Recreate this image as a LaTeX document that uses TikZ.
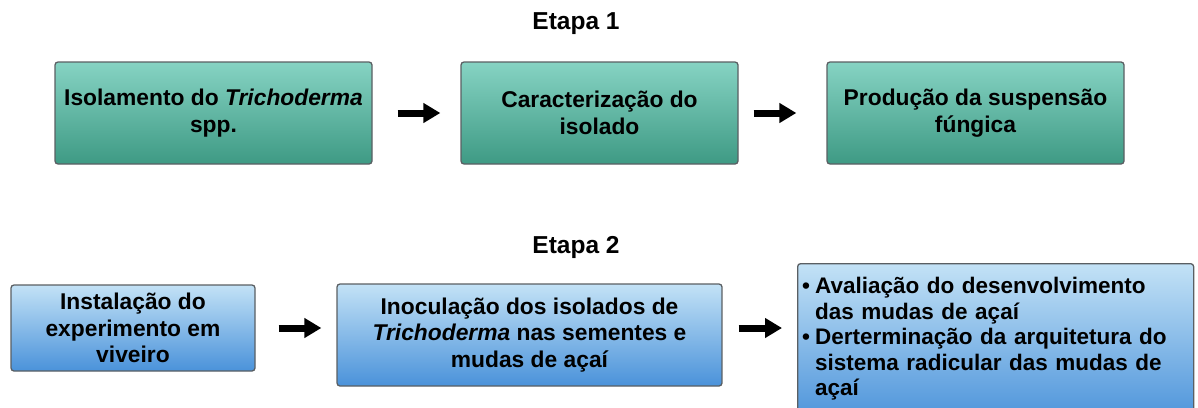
\documentclass[tikz,border=0pt]{standalone}
\usepackage{fontspec}
\setmainfont{Liberation Sans}
\usetikzlibrary{arrows.meta}
\definecolor{tealtop}{HTML}{86D3C3}
\definecolor{tealbot}{HTML}{3E9A84}
\definecolor{bluetop}{HTML}{C3E2F6}
\definecolor{bluebot}{HTML}{4A92DA}
\definecolor{edge}{HTML}{5A5F63}
\begin{document}
\begin{tikzpicture}[x=1pt,y=-1pt,
  box/.style={draw=edge, line width=1.3pt, rounded corners=3pt, align=center,
    font=\fontsize{22.8}{26.5}\selectfont\bfseries, inner sep=4pt},
  tealbox/.style={box, top color=tealtop, bottom color=tealbot},
  bluebox/.style={box, top color=bluetop, bottom color=bluebot},
  stage/.style={font=\fontsize{24.5}{28}\selectfont\bfseries},
  bigarrow/.style={line width=7pt, -{Triangle[length=17pt,width=19pt]}}
]
\useasboundingbox (0,0) rectangle (1198,407);
\clip (0,0) rectangle (1198,407);

\node[stage] (e1) at (576,24) {Etapa 1};
\node[stage] (e2) at (576,247) {Etapa 2};

\node[tealbox, minimum width=317pt, minimum height=102pt] (b1) at (213.5,113)
  {Isolamento do \textit{Trichoderma}\\spp.};
\node[tealbox, minimum width=277pt, minimum height=102pt] (b2) at (599.5,113)
  {Caracterização do\\isolado};
\node[tealbox, minimum width=297pt, minimum height=102pt] (b3) at (975.5,113)
  {Produção da suspensão\\fúngica};

\node[bluebox, minimum width=244pt, minimum height=86pt] (b4) at (133,328)
  {Instalação do\\experimento em\\viveiro};
\node[bluebox, minimum width=385pt, minimum height=102pt] (b5) at (529.5,335)
  {Inoculação dos isolados de\\\textit{Trichoderma} nas sementes e\\mudas de açaí};
\node[bluebox, minimum width=396pt, minimum height=160pt, anchor=north west, align=left] (b6) at (797,263) {};
\node[anchor=north west, text width=385pt, align=left, inner sep=0pt,
  font=\fontsize{22.5}{25.5}\selectfont\bfseries] (t6) at (802,277)
  {\hyphenpenalty=10000\exhyphenpenalty=10000
   \hangindent=13pt\hangafter=1\makebox[13pt][l]{•}Avaliação do desenvolvimento\break das mudas de açaí\par
   \hangindent=13pt\hangafter=1\makebox[13pt][l]{•}Derterminação da arquitetura do\break sistema radicular das mudas de\break açaí\par};

\draw[bigarrow] ([xshift=25pt]b1.east) -- ([xshift=-20pt]b2.west);
\draw[bigarrow] ([xshift=15pt]b2.east) -- ([xshift=-30pt]b3.west);
\draw[bigarrow] ([xshift=23pt]b4.east) -- ([xshift=-15pt]b5.west|-b4.east);
\draw[bigarrow] ([xshift=16pt]b5.east|-b4.east) -- ([xshift=-15pt]b6.west|-b4.east);
\end{tikzpicture}
\end{document}
